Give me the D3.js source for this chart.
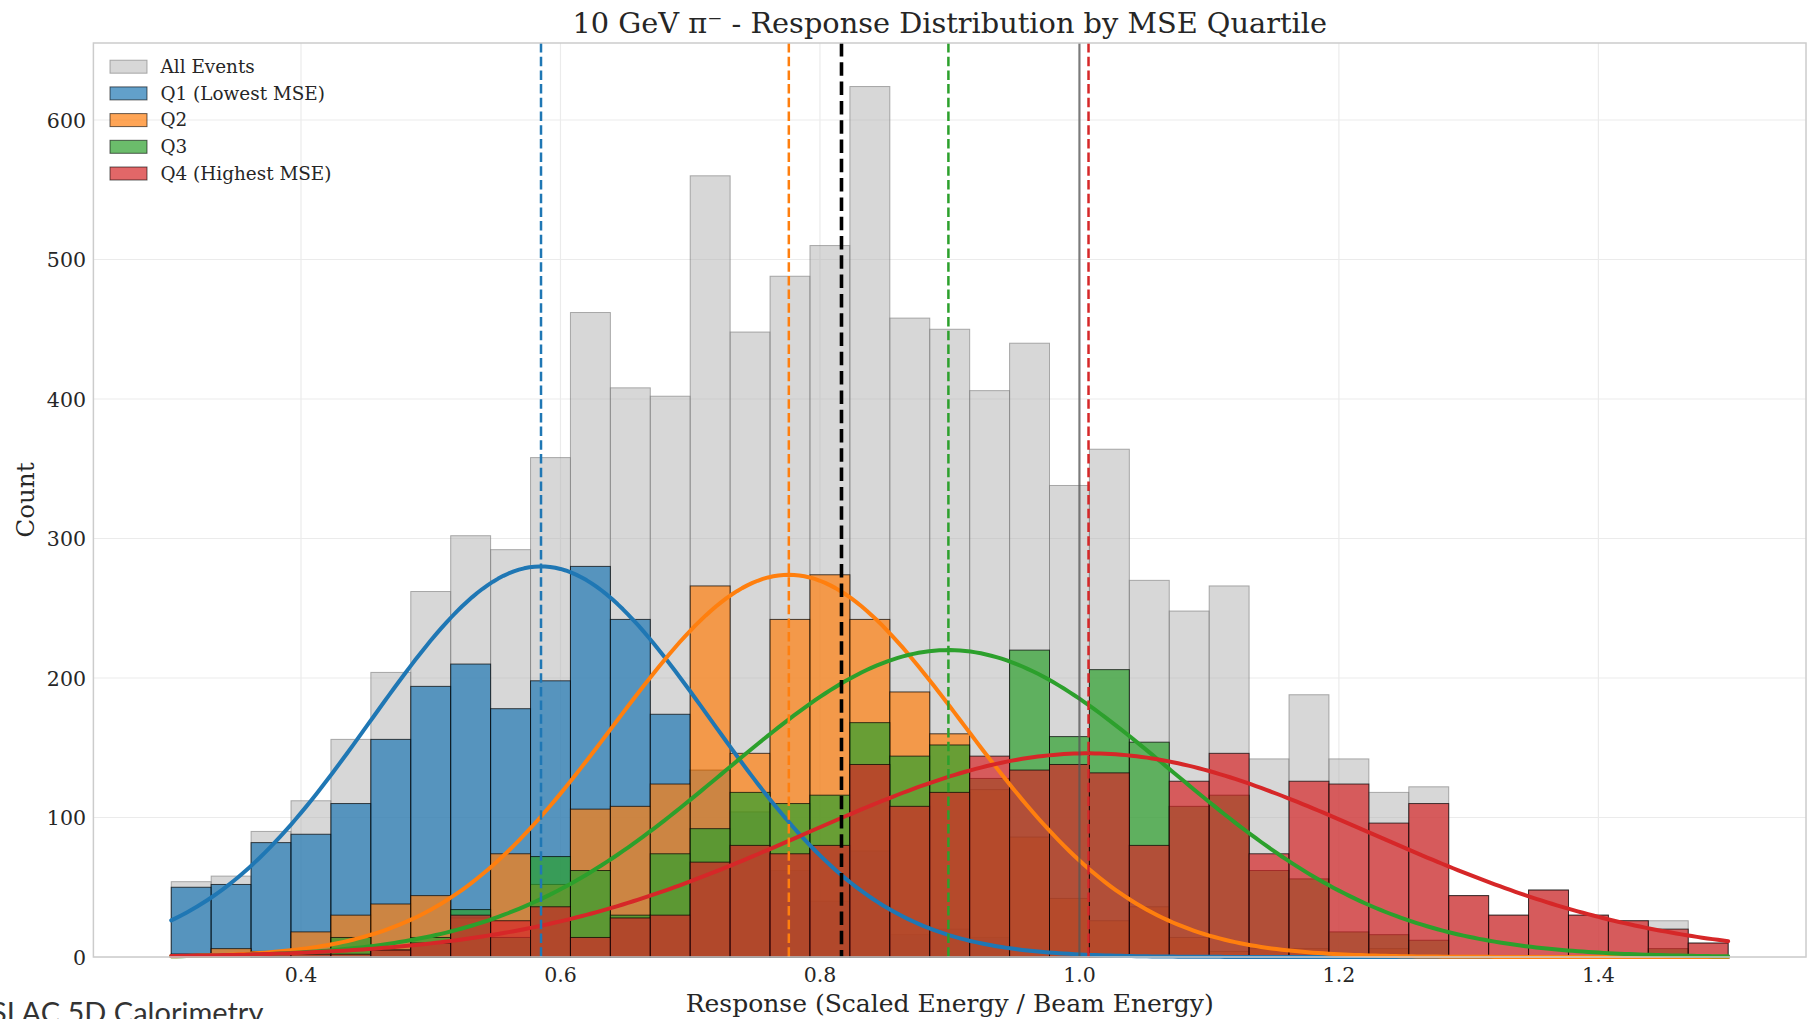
<!DOCTYPE html>
<html><head><meta charset="utf-8">
<script src="https://cdn.jsdelivr.net/npm/d3@7"></script>
<style>
html,body{margin:0;padding:0;background:#fff;overflow:hidden;}
svg{display:block;}
</style></head>
<body>
<svg id="chart" width="1808" height="1019"></svg>
<script>
// ---- data ----
const binMin = 0.3, binMax = 1.5, nBins = 39;
const allEvents = [54,58,90,112,156,204,262,302,292,358,462,408,402,560,448,488,510,624,458,450,406,440,338,364,270,248,266,142,188,142,118,122,44,30,48,30,26,26,10];
const q1 = [50,52,82,88,110,156,194,210,178,198,280,242,174,134,104,62,40,76,16,20,14,0,0,0,0,0,0,0,0,0,0,0,0,0,0,0,0,0,0];
const q2 = [0,6,4,18,30,38,44,28,74,52,106,108,124,266,146,242,274,242,190,160,120,86,42,26,36,14,4,6,6,0,6,0,0,0,0,0,0,0,0];
const q3 = [2,0,2,4,14,5,14,34,14,72,62,30,74,92,118,110,116,168,144,152,128,220,158,206,154,108,116,62,56,18,16,12,0,0,0,0,0,6,0];
const q4 = [2,0,2,2,2,5,10,30,26,36,14,28,30,68,80,74,80,138,108,118,144,134,138,132,80,126,146,74,126,124,96,110,44,30,48,30,26,20,10];
const seriesNames = ["Q1 (Lowest MSE)","Q2","Q3","Q4 (Highest MSE)"];
const seriesColors = ["#1f77b4","#ff7f0e","#2ca02c","#d62728"];
// Gaussian fit parameters per quartile
const fitMu = [0.585, 0.776, 0.899, 1.007];
const fitSigma = [0.131, 0.135, 0.172, 0.218];
const fitAmp = [280, 274, 220, 146];
const overallMean = 0.8166;
const idealResponse = 1.0;
const xTicks = [0.4,0.6,0.8,1.0,1.2,1.4];
const yTicks = [0,100,200,300,400,500,600];
const titleText = "10 GeV \u03c0\u207b - Response Distribution by MSE Quartile";
const xLabel = "Response (Scaled Energy / Beam Energy)";
const yLabel = "Count";
const watermark = "SLAC 5D Calorimetry";

// ---- layout ----
const L = 93.4, R = 1806, T = 43, B = 957;
const x = d3.scaleLinear().domain([0.24, 1.56]).range([L, R]);
const y = d3.scaleLinear().domain([0, 655.2]).range([B, T]);
const svg = d3.select("#chart");
const serif = "'DejaVu Serif', serif";
const bw = (binMax - binMin) / nBins;
const edge = i => binMin + i * bw;

// grid
const g = svg.append("g");
g.selectAll(".gx").data(xTicks).join("line")
  .attr("x1", d => x(d)).attr("x2", d => x(d)).attr("y1", T).attr("y2", B)
  .attr("stroke", "#ebebeb").attr("stroke-width", 1.2);
g.selectAll(".gy").data(yTicks).join("line")
  .attr("x1", L).attr("x2", R).attr("y1", d => y(d)).attr("y2", d => y(d))
  .attr("stroke", "#ebebeb").attr("stroke-width", 1.2);

// all events
svg.append("g").selectAll("rect").data(allEvents).join("rect")
  .attr("x", (d, i) => x(edge(i))).attr("width", (d, i) => x(edge(i + 1)) - x(edge(i)))
  .attr("y", d => y(d)).attr("height", d => y(0) - y(d))
  .attr("fill", "#acacac").attr("fill-opacity", 0.48)
  .attr("stroke", "#7a7a7a").attr("stroke-opacity", 0.6).attr("stroke-width", 1);

// quartiles
[q1, q2, q3, q4].forEach((arr, k) => {
  svg.append("g").selectAll("rect").data(arr).join("rect")
    .attr("x", (d, i) => x(edge(i))).attr("width", (d, i) => x(edge(i + 1)) - x(edge(i)))
    .attr("y", d => y(d)).attr("height", d => y(0) - y(d))
    .attr("fill", seriesColors[k]).attr("fill-opacity", 0.7)
    .attr("stroke", "#000").attr("stroke-opacity", 0.7).attr("stroke-width", 1);
});

// fit curves
const xs = d3.range(0, 301).map(i => binMin + (binMax - binMin) * i / 300);
const line = d3.line().x(d => x(d[0])).y(d => y(d[1]));
fitMu.forEach((mu, k) => {
  const pts = xs.map(v => [v, fitAmp[k] * Math.exp(-((v - mu) ** 2) / (2 * fitSigma[k] ** 2))]);
  svg.append("path").datum(pts).attr("d", line)
    .attr("fill", "none").attr("stroke", seriesColors[k]).attr("stroke-width", 4)
    .attr("stroke-linejoin", "round").attr("stroke-linecap", "round");
});

// vertical reference lines
svg.append("line").attr("x1", x(idealResponse)).attr("x2", x(idealResponse)).attr("y1", T).attr("y2", B)
  .attr("stroke", "#555").attr("stroke-opacity", 0.75).attr("stroke-width", 2.2);
fitMu.forEach((mu, k) => {
  svg.append("line").attr("x1", x(mu)).attr("x2", x(mu)).attr("y1", T).attr("y2", B)
    .attr("stroke", seriesColors[k]).attr("stroke-width", 2.5).attr("stroke-dasharray", "9.5,4.2");
});
svg.append("line").attr("x1", x(overallMean)).attr("x2", x(overallMean)).attr("y1", T).attr("y2", B)
  .attr("stroke", "#000").attr("stroke-width", 3.6).attr("stroke-dasharray", "13.5,5.8");

// spines
svg.append("rect").attr("x", L).attr("y", T).attr("width", R - L).attr("height", B - T)
  .attr("fill", "none").attr("stroke", "#cccccc").attr("stroke-width", 1.5);

// tick labels
svg.append("g").selectAll("text").data(xTicks).join("text")
  .attr("x", d => x(d)).attr("y", 981.5).attr("text-anchor", "middle")
  .attr("font-family", serif).attr("font-size", 20.5).attr("fill", "#262626")
  .text(d => d3.format(".1f")(d));
svg.append("g").selectAll("text").data(yTicks).join("text")
  .attr("x", 86).attr("y", d => y(d) + 7.5).attr("text-anchor", "end")
  .attr("font-family", serif).attr("font-size", 20.5).attr("fill", "#262626")
  .text(d => d);

// axis labels & title
svg.append("text").attr("x", (L + R) / 2).attr("y", 1012).attr("text-anchor", "middle")
  .attr("font-family", serif).attr("font-size", 25).attr("fill", "#262626").text(xLabel);
svg.append("text").attr("transform", `translate(34,${(T + B) / 2}) rotate(-90)`).attr("text-anchor", "middle")
  .attr("font-family", serif).attr("font-size", 24.6).attr("fill", "#262626").text(yLabel);
svg.append("text").attr("x", (L + R) / 2).attr("y", 32.5).attr("text-anchor", "middle")
  .attr("font-family", serif).attr("font-size", 28.8).attr("fill", "#262626").text(titleText);

// legend
const legendItems = [{name: "All Events", color: "#acacac", op: 0.48, stroke: "#7a7a7a"}]
  .concat(seriesNames.map((n, k) => ({name: n, color: seriesColors[k], op: 0.7, stroke: "#000"})));
const lg = svg.append("g");
legendItems.forEach((it, i) => {
  const cy = 66.7 + i * 26.7;
  lg.append("rect").attr("x", 110).attr("y", cy - 6.5).attr("width", 37).attr("height", 13)
    .attr("fill", it.color).attr("fill-opacity", it.op).attr("stroke", it.stroke).attr("stroke-opacity", 0.6);
  lg.append("text").attr("x", 160.5).attr("y", cy + 6.3).attr("font-family", serif).attr("font-size", 18.4)
    .attr("fill", "#262626").text(it.name);
});

// watermark (partly cut off at the bottom-left edge, as in the reference)
svg.append("text").attr("x", -9).attr("y", 1023).attr("font-family", "Lato, sans-serif")
  .attr("font-size", 29).attr("fill", "#333").text(watermark);
</script>
</body></html>
